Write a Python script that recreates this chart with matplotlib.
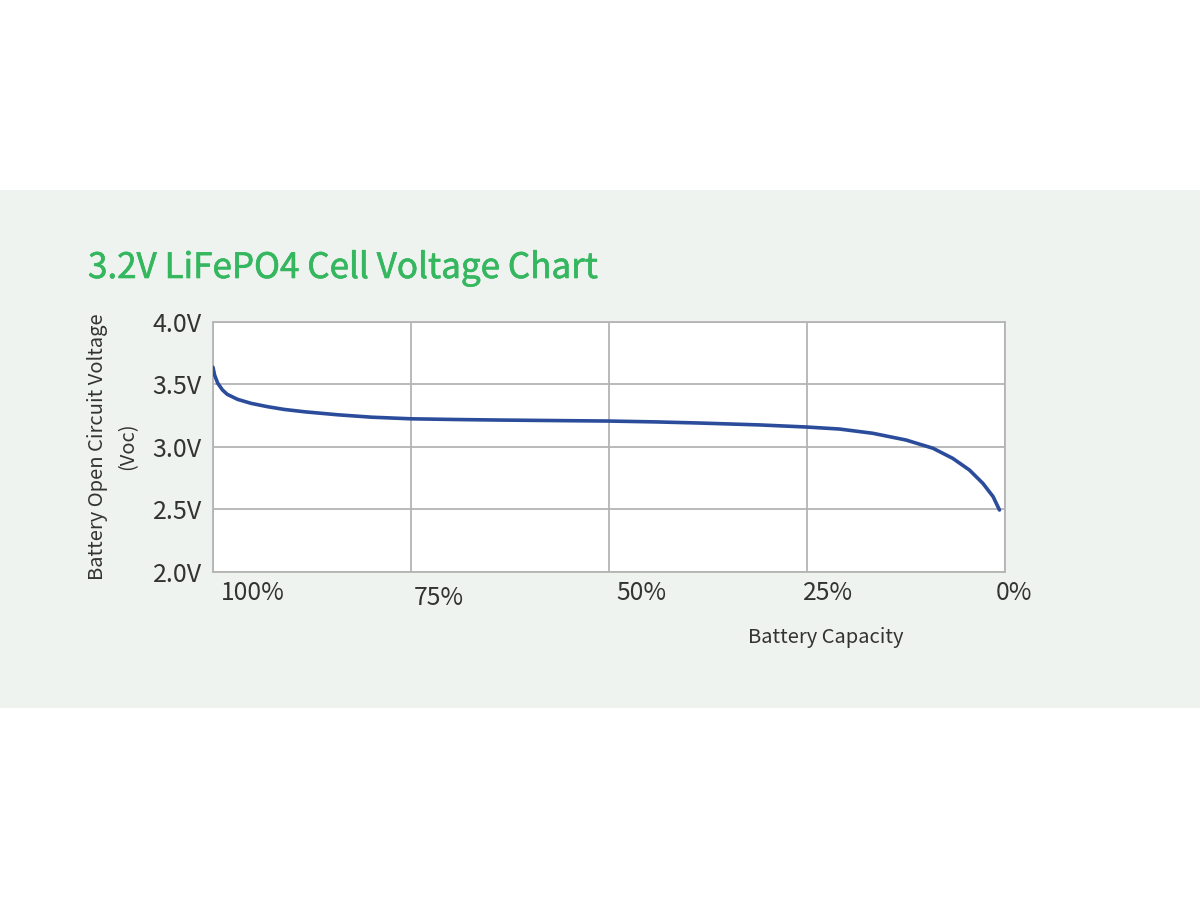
import matplotlib.pyplot as plt
from matplotlib.patches import Rectangle
import matplotlib.patheffects as pe
import matplotlib.transforms as mtransforms

plt.rcParams['font.family'] = ['Noto Sans CJK SC', 'DejaVu Sans']

# discharge curve (capacity %, open circuit voltage V)
capacity = [100, 99.8, 99.4, 98.8, 98.2, 96.9, 95.2, 93.1, 91.0, 88.4,
            84.2, 80.0, 75.0, 69.0, 63.8, 57.0, 50.0, 44.0, 38.5, 31.0,
            25.0, 20.9, 16.7, 12.5, 9.1, 6.6, 4.5, 2.8, 1.5, 0.7]
voltage = [3.637, 3.575, 3.509, 3.455, 3.420, 3.380, 3.348, 3.321, 3.299, 3.280,
           3.256, 3.237, 3.224, 3.218, 3.214, 3.210, 3.206, 3.199, 3.190, 3.175,
           3.158, 3.142, 3.108, 3.054, 2.988, 2.907, 2.814, 2.707, 2.600, 2.493]

y_ticks = [2.0, 2.5, 3.0, 3.5, 4.0]
y_labels = ['2.0V', '2.5V', '3.0V', '3.5V', '4.0V']
x_grid = [100, 75, 50, 25, 0]
x_labels = ['100%', '75%', '50%', '25%', '0%']
# where the reference puts each capacity label (a bit right of its gridline)
x_label_pos = [95.0, 71.5, 45.9, 22.4, -1.1]
x_label_dy = [0, -5, 0, 0, 0]

title_color = '#34b75e'

fig = plt.figure(figsize=(12, 9), dpi=100)
fig.patch.set_facecolor('white')

# light band behind the chart
fig.add_artist(Rectangle((0, 1 - 708 / 900), 1, (708 - 190) / 900,
                         transform=fig.transFigure, facecolor='#eff3f0',
                         edgecolor='none', zorder=0))

ax = fig.add_axes([213 / 1200, 1 - 571.5 / 900, 792 / 1200, 249.5 / 900])
ax.set_facecolor('white')
ax.plot(capacity, voltage, color='#2b4c9b', lw=2.6,
        solid_capstyle='round', solid_joinstyle='round', zorder=3)

ax.set_xlim(100, 0)
ax.set_ylim(2.0, 4.0)
ax.set_xticks(x_grid)
ax.set_xticklabels([])
ax.set_yticks(y_ticks)
ax.set_yticklabels(y_labels, fontsize=18, color='#333333')
ax.tick_params(axis='both', length=0, pad=8)
ax.grid(True, color='#b4b4b4', lw=1.3)
for s in ax.spines.values():
    s.set_color('#b4b4b4')
    s.set_linewidth(1.3)

trans = mtransforms.blended_transform_factory(ax.transData, fig.transFigure)
for xp, lab, dy in zip(x_label_pos, x_labels, x_label_dy):
    ax.text(xp, 1 - (593 - dy) / 900, lab, transform=trans, fontsize=17.8,
            color='#333333', ha='center', va='center', clip_on=False)

fig.text(826 / 1200, 1 - 638 / 900, 'Battery Capacity', fontsize=14.5,
         color='#333333', ha='center', va='center')
fig.text(97.5 / 1200, 1 - 446.5 / 900, 'Battery Open Circuit Voltage',
         fontsize=14.5, color='#333333', ha='center', va='center', rotation=90)
fig.text(127.5 / 1200, 1 - 446.5 / 900, '(Voc)',
         fontsize=14.5, color='#333333', ha='center', va='center', rotation=90)

fig.text(88 / 1200, 1 - 278 / 900, '3.2V LiFePO4 Cell Voltage Chart',
         fontsize=25.2, color=title_color, ha='left', va='baseline',
         path_effects=[pe.withStroke(linewidth=0.45, foreground=title_color)])

fig.savefig('out.png', dpi=100)
